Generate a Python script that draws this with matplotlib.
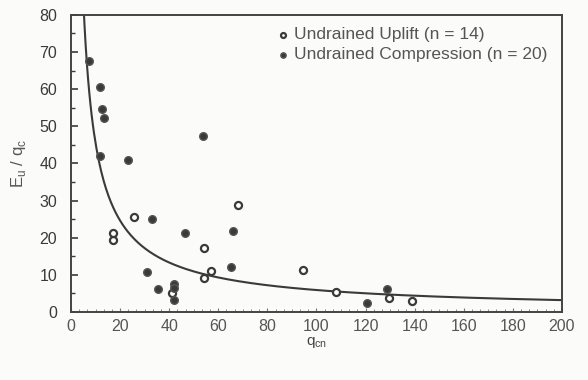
import numpy as np
import matplotlib
matplotlib.use("Agg")
import matplotlib.pyplot as plt
from matplotlib.ticker import MultipleLocator

# undrained uplift tests (open symbols)
uplift_q = [17.2, 17.2, 25.7, 41.1, 54.3, 54.3, 56.9, 68.0, 94.7, 108.0, 129.4, 138.9]
uplift_e = [19.4, 21.2, 25.7, 5.0, 17.3, 9.2, 11.0, 28.8, 11.2, 5.5, 3.8, 3.0]

# undrained compression tests (filled symbols)
comp_q = [7.5, 11.9, 12.5, 13.3, 11.9, 23.2, 53.6, 33.0, 46.3, 65.9,
          31.1, 65.3, 35.6, 41.8, 41.8, 41.8, 128.6, 120.4]
comp_e = [67.7, 60.6, 54.6, 52.2, 41.9, 41.0, 47.4, 25.1, 21.2, 21.9,
          10.8, 12.2, 6.3, 7.5, 6.4, 3.2, 6.1, 2.3]

# power-law trend  E/q = a * q^b
fit_a = 351.0
fit_b = -0.887

plt.rcParams['font.family'] = ['Liberation Sans', 'DejaVu Sans']
grey = '#3a3a3a'

fig = plt.figure(figsize=(5.88, 3.80), dpi=100)
fig.patch.set_facecolor('#fbfbfa')
ax = fig.add_axes([0.1207, 0.179, 0.835, 0.782])
ax.set_facecolor('#fbfbfa')

qq = np.linspace(5.0, 200, 400)
ax.plot(qq, fit_a * qq ** fit_b, color=grey, lw=1.5, zorder=2)

ax.scatter(uplift_q, uplift_e, s=26, facecolors='white', edgecolors=grey,
           linewidths=1.6, zorder=3, label='Undrained Uplift (n = 14)')
ax.scatter(comp_q, comp_e, s=30, facecolors=grey, edgecolors='#555555',
           linewidths=1.0, zorder=3, label='Undrained Compression (n = 20)')

ax.set_xlim(0, 200)
ax.set_ylim(0, 80)
ax.xaxis.set_major_locator(MultipleLocator(20))
ax.xaxis.set_minor_locator(MultipleLocator(20 / 6))
ax.yaxis.set_major_locator(MultipleLocator(10))
ax.yaxis.set_minor_locator(MultipleLocator(5))
ax.tick_params(which='both', direction='in', colors='#777777', labelcolor='#555555',
               labelsize=11.5, top=False, right=False)
ax.tick_params(axis='y', which='major', length=5, width=1.2, pad=10, colors=grey)
ax.tick_params(axis='y', which='minor', length=3, width=1.0, colors=grey)
ax.tick_params(axis='x', which='major', length=3, width=0.8, pad=5)
ax.tick_params(axis='x', which='minor', length=2, width=0.6)
for sp in ax.spines.values():
    sp.set_color('#444444')
    sp.set_linewidth(1.4)

ax.set_xlabel('q$_{\\mathregular{cn}}$', fontsize=11, color='#444444', labelpad=1)
ax.set_ylabel('E$_{\\mathregular{u}}$ / q$_{\\mathregular{c}}$', fontsize=12,
              color='#555555', labelpad=8)

leg = ax.legend(loc='upper right', frameon=False, fontsize=12.5, handletextpad=0.05,
                markerscale=0.7, borderaxespad=0.3, labelspacing=0.3,
                handlelength=1.2, bbox_to_anchor=(0.995, 1.0))
for t in leg.get_texts():
    t.set_color('#555555')

fig.savefig('out.png', dpi=100, facecolor=fig.get_facecolor())
